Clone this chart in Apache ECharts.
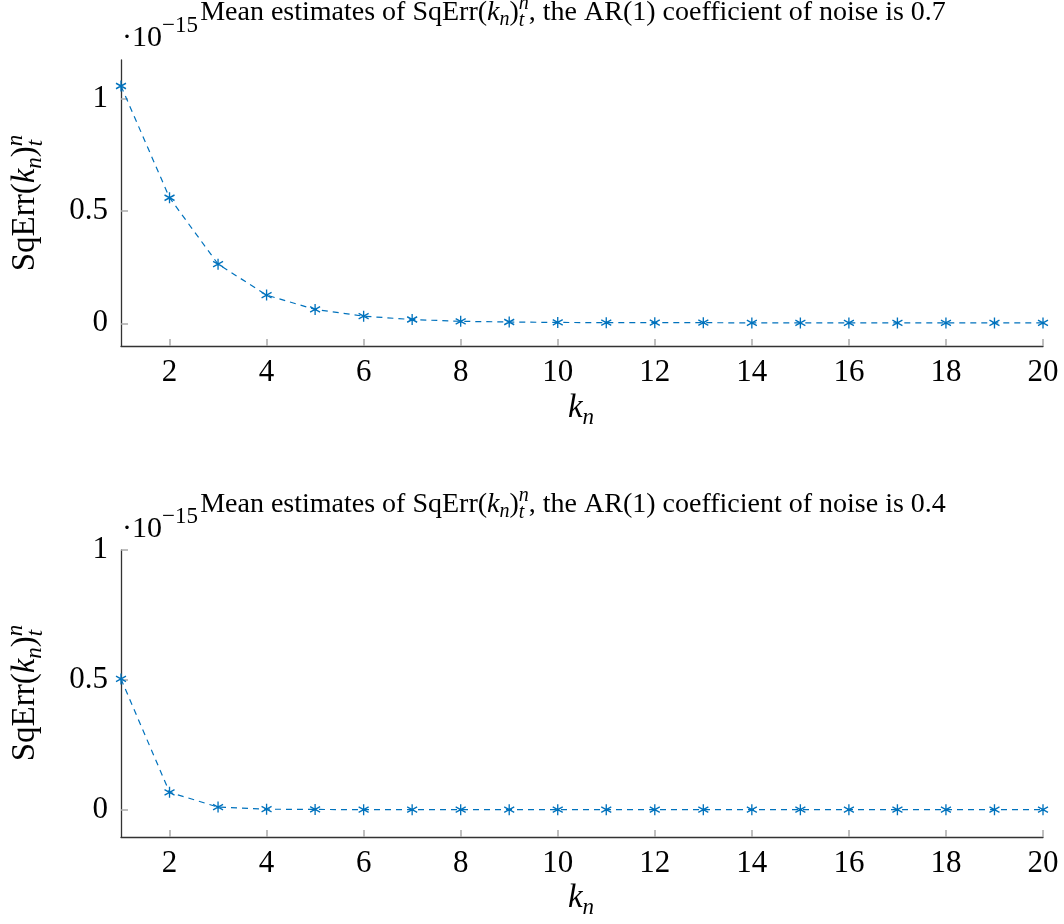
<!DOCTYPE html>
<html>
<head>
<meta charset="utf-8">
<script src="https://cdn.jsdelivr.net/npm/echarts@6/dist/echarts.min.js"></script>
<style>
html,body{margin:0;padding:0;background:#fff;}
#chart{width:1064px;height:924px;}
</style>
</head>
<body>
<div id="chart"></div>
<script>
// ---- data (values in units of 1e-15) ----
const kn = [1,2,3,4,5,6,7,8,9,10,11,12,13,14,15,16,17,18,19,20];
const sqErrAR07 = [1.058,0.560,0.264,0.126,0.062,0.032,0.017,0.009,0.006,0.004,0.003,0.003,0.003,0.002,0.002,0.002,0.002,0.002,0.002,0.002];
const sqErrAR04 = [0.504,0.068,0.011,0.003,0.002,0.001,0.001,0.001,0.001,0.001,0.001,0.001,0.001,0.001,0.001,0.001,0.001,0.001,0.001,0.001];
const xTickValues = [2,4,6,8,10,12,14,16,18,20];
const yTickValues = [0,0.5,1];
const titles = ['0.7','0.4'];

// ---- styling helpers ----
const FF = '"Liberation Serif","DejaVu Serif",serif';
const BLUE = '#0072bd';
const ctx = document.createElement('canvas').getContext('2d');
function fontStr(s, it){ return (it ? 'italic ' : '') + s + 'px ' + FF; }
function measure(r){ ctx.font = fontStr(r.s, r.i); return ctx.measureText(r.t).width; }
function buildRuns(items){
  let x = 0; const out = [];
  for (const it of items){
    if (it.stack){
      let w = 0;
      for (const s of it.stack){ out.push(Object.assign({}, s, {x:x})); w = Math.max(w, measure(s)); }
      x += w;
    } else { out.push(Object.assign({}, it, {x:x})); x += measure(it); }
  }
  return {out:out, width:x};
}
function runsToText(runs, ox, baseline){
  return runs.map(r => ({
    type:'text', silent:true,
    x: ox + r.x, y: baseline + (r.dy || 0) - 0.34 * r.s,
    style:{text:r.t, font:fontStr(r.s, r.i), fill:'#000', align:'left', verticalAlign:'middle'}
  }));
}
function placeRuns(items, cx, baseline, mode){
  const b = buildRuns(items);
  const ox = mode === 'left' ? cx : cx - b.width / 2;
  return runsToText(b.out, ox, baseline);
}

function titleItems(coef){
  const T = 28, S = 20;
  return [
    {t:'Mean estimates of SqErr(', s:T},
    {t:'k', s:T, i:true},
    {t:'n', s:S, i:true, dy:5},
    {t:')', s:T},
    {stack:[{t:'n', s:S, i:true, dy:-11}, {t:'t', s:S, i:true, dy:6}]},
    {t:', the AR(1) coefficient of noise is ' + coef, s:T}
  ];
}
function yLabelItems(){
  const T = 33, S = 23;
  return [
    {t:'SqErr(', s:T},
    {t:'k', s:T, i:true},
    {t:'n', s:S, i:true, dy:6},
    {t:')', s:T},
    {stack:[{t:'n', s:S, i:true, dy:-13}, {t:'t', s:S, i:true, dy:7}]}
  ];
}
const xLabelItems = [{t:'k', s:33, i:true}, {t:'n', s:23, i:true, dy:6}];
const expItems = [{t:'·10', s:30}, {t:'−15', s:23, dy:-14}];

const panels = [
  {top:60, height:286, ymin:-0.101, ymax:1.174, data:sqErrAR07, titleBase:22, expBase:48, xlabBase:420, ylabCy:203},
  {top:550, height:287, ymin:-0.104, ymax:1.0, data:sqErrAR04, titleBase:514, expBase:539, xlabBase:910, ylabCy:693}
];

const grids = [], xAxes = [], yAxes = [], series = [], graphics = [];
panels.forEach((p, i) => {
  grids.push({left:121, top:p.top, width:922, height:p.height, containLabel:false});
  xAxes.push({
    type:'value', gridIndex:i, min:1, max:20,
    axisLine:{show:true, onZero:false, lineStyle:{color:'#333', width:1.3}},
    axisTick:{show:true, inside:true, length:7, customValues:xTickValues, lineStyle:{color:'#aaa', width:1.5}},
    axisLabel:{show:true, customValues:xTickValues, margin:11, color:'#000', fontSize:31, fontFamily:FF},
    splitLine:{show:false}
  });
  yAxes.push({
    type:'value', gridIndex:i, min:p.ymin, max:p.ymax,
    axisLine:{show:true, onZero:false, lineStyle:{color:'#333', width:1.3}},
    axisTick:{show:true, inside:true, length:7, customValues:yTickValues, lineStyle:{color:'#aaa', width:1.5}},
    axisLabel:{show:true, customValues:yTickValues, margin:13, color:'#000', fontSize:31, fontFamily:FF},
    splitLine:{show:false}
  });
  series.push({
    type:'line', xAxisIndex:i, yAxisIndex:i,
    data: kn.map((k, j) => [k, p.data[j]]),
    symbol:'path://M0,-5L0,5M-4.33,-2.5L4.33,2.5M-4.33,2.5L4.33,-2.5',
    symbolSize:[10,11], showSymbol:true, showAllSymbol:true,
    itemStyle:{color:'none', borderColor:BLUE, borderWidth:1.4},
    lineStyle:{color:BLUE, width:1.2, type:[6,5]},
    clip:false, silent:true
  });
  graphics.push(...placeRuns(titleItems(titles[i]), 573, p.titleBase, 'center'));
  graphics.push(...placeRuns(expItems, 122, p.expBase, 'left'));
  graphics.push(...placeRuns(xLabelItems, 581, p.xlabBase, 'center'));
  const yb = buildRuns(yLabelItems());
  graphics.push({type:'group', x:37, y:p.ylabCy, rotation:Math.PI/2, silent:true,
    children: runsToText(yb.out, -yb.width/2, 0)});
});

const chart = echarts.init(document.getElementById('chart'), null, {renderer:'canvas'});
chart.setOption({
  animation:false,
  backgroundColor:'#fff',
  grid:grids, xAxis:xAxes, yAxis:yAxes, series:series,
  graphic:{elements:graphics}
});
</script>
</body>
</html>
